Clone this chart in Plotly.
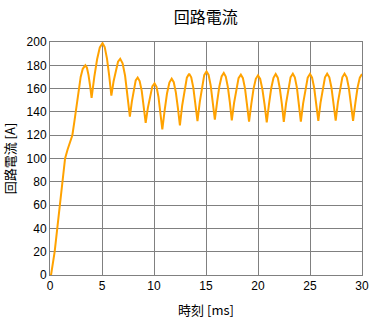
import plotly.graph_objects as go

# Time [ms]
time_ms = [
    0.0, 0.1, 0.45, 0.7, 0.92, 1.14, 1.3, 1.45, 1.7, 1.95, 2.15, 2.35, 2.55, 2.75, 2.95, 3.15, 3.4,
    3.55, 3.7, 3.85, 4.0,
    4.26, 4.53, 4.79, 5.05,
    5.26, 5.48, 5.69, 5.9,
    6.11, 6.33, 6.54, 6.75,
    6.98, 7.22, 7.45, 7.68,
    7.87, 8.06, 8.24, 8.43,
    8.62, 8.82, 9.01, 9.2,
    9.41, 9.63, 9.84, 10.05,
    10.24, 10.43, 10.61, 10.8,
    11.03, 11.25, 11.48, 11.7,
    11.9, 12.1, 12.29, 12.49,
    12.71, 12.94, 13.16, 13.38,
    13.58, 13.78, 13.98, 14.18,
    14.4, 14.62, 14.83, 15.05,
    15.25, 15.45, 15.65, 15.85,
    16.07, 16.28, 16.5, 16.71,
    16.9, 17.1, 17.29, 17.48,
    17.7, 17.92, 18.13, 18.35,
    18.55, 18.75, 18.94, 19.14,
    19.36, 19.57, 19.79, 20.0,
    20.21, 20.42, 20.63, 20.84,
    21.06, 21.27, 21.49, 21.7,
    21.9, 22.09, 22.29, 22.48,
    22.7, 22.92, 23.13, 23.35,
    23.54, 23.74, 23.93, 24.12,
    24.34, 24.56, 24.78, 25.0,
    25.2, 25.4, 25.6, 25.8,
    26.01, 26.23, 26.44, 26.65,
    26.86, 27.06, 27.27, 27.47,
    27.68, 27.9, 28.11, 28.32,
    28.53, 28.73, 28.94, 29.14,
    29.36, 29.57, 29.79, 30.0,
]

# Circuit current [A]
current_a = [
    0.0, 0.0, 20.0, 40.0, 60.0, 80.0, 92.0, 100.0, 108.0, 114.0, 120.0, 132.0, 145.0, 160.0, 170.0, 177.0, 180.0,
    177.9, 171.8, 162.7, 152.0,
    170.0, 185.2, 195.4, 199.0,
    195.6, 185.8, 171.2, 154.0,
    166.1, 176.3, 183.1, 185.5,
    181.7, 171.0, 155.0, 136.0,
    148.8, 159.7, 167.0, 169.5,
    166.5, 158.1, 145.4, 130.5,
    143.5, 154.5, 161.9, 164.5,
    161.5, 152.9, 140.1, 125.0,
    141.7, 155.8, 165.2, 168.5,
    165.5, 156.8, 143.8, 128.5,
    145.5, 159.8, 169.4, 172.8,
    169.7, 160.8, 147.6, 132.0,
    148.4, 162.3, 171.5, 174.8,
    171.7, 162.7, 149.3, 133.4,
    148.7, 161.7, 170.4, 173.4,
    170.3, 161.5, 148.3, 132.8,
    147.8, 160.5, 169.0, 172.0,
    168.9, 160.2, 147.1, 131.7,
    146.9, 159.8, 168.4, 171.4,
    168.3, 159.6, 146.5, 131.0,
    146.9, 160.3, 169.3, 172.5,
    169.4, 160.5, 147.1, 131.4,
    147.3, 160.7, 169.7, 172.8,
    169.7, 160.8, 147.4, 131.7,
    147.3, 160.5, 169.4, 172.5,
    169.4, 160.7, 147.6, 132.2,
    147.7, 160.9, 169.7, 172.8,
    169.7, 161.0, 147.9, 132.5,
    147.9, 161.0, 169.7, 172.8,
    169.7, 160.9, 147.7, 132.2,
    147.6, 160.7, 169.4, 172.5,
]

x_ticks = [0, 5, 10, 15, 20, 25, 30]
y_ticks = [0, 20, 40, 60, 80, 100, 120, 140, 160, 180, 200]

title_text = "回路電流"
x_title = "時刻\u00a0[ms]"
y_title = "回路電流\u00a0[A]"

JP = "Noto Sans CJK JP"
NUM = "Liberation Sans"
GRID = "#808080"

fig = go.Figure()
fig.add_trace(go.Scatter(
    x=time_ms, y=current_a, mode="lines",
    line=dict(color="#FFA200", width=2),
    hoverinfo="skip", showlegend=False,
))

fig.update_layout(
    width=374, height=319,
    margin=dict(l=50, r=12, t=42, b=43.5, pad=0, autoexpand=False),
    paper_bgcolor="white", plot_bgcolor="white",
    title=dict(text=title_text, x=205.7 / 374, xref="container", xanchor="center",
               y=1 - 17 / 319, yref="container", yanchor="middle",
               font=dict(family=JP, size=16, color="black")),
    showlegend=False,
)

fig.update_xaxes(
    range=[0, 30], tickvals=x_ticks, ticktext=[str(v) for v in x_ticks],
    automargin=False,
    showgrid=True, gridcolor=GRID, gridwidth=1,
    showline=True, linecolor=GRID, linewidth=1, mirror=True,
    zeroline=False, ticks="", ticklen=0,
    tickfont=dict(family=NUM, size=12, color="black"),
    title=dict(text=x_title, font=dict(family=JP, size=13, color="black"), standoff=14),
)
fig.update_yaxes(
    range=[0, 200], tickvals=y_ticks, ticktext=[str(v) for v in y_ticks],
    automargin=False,
    showgrid=True, gridcolor=GRID, gridwidth=1,
    showline=True, linecolor=GRID, linewidth=1, mirror=True,
    zeroline=False, ticks="", ticklen=0,
    tickfont=dict(family=NUM, size=12, color="black"),
    title=dict(text=y_title, font=dict(family=JP, size=13, color="black"), standoff=9),
)

fig.write_html("out.html")
